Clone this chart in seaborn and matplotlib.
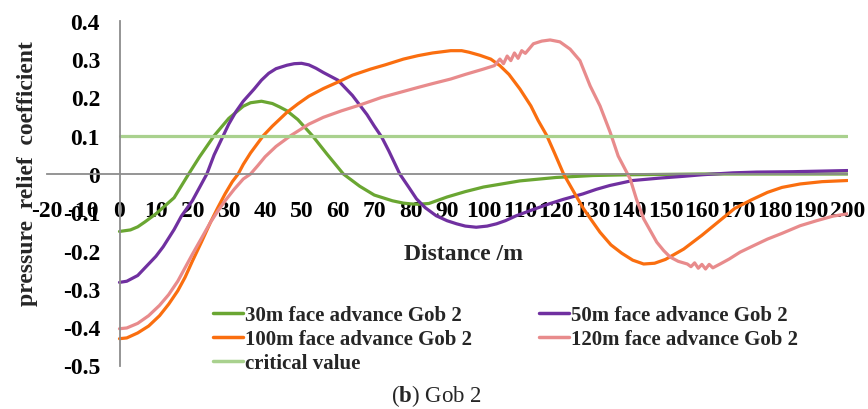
import matplotlib
matplotlib.use("Agg")
import matplotlib.pyplot as plt
import seaborn as sns
import numpy as np
import pandas as pd
from matplotlib.lines import Line2D

# ---------------- data ----------------
x_30 = [0, 3, 5, 7, 10, 15, 19, 22, 26, 30, 34, 36, 39, 42, 44, 46, 49, 53, 57, 61.5, 66,
        70, 75, 78, 80, 82, 85, 90, 95, 100, 110, 120, 130, 140, 160, 180, 200]
y_30 = [-0.150, -0.146, -0.138, -0.125, -0.104, -0.062, 0.0, 0.045, 0.100, 0.145, 0.177,
        0.186, 0.190, 0.184, 0.175, 0.165, 0.142, 0.100, 0.052, 0.0, -0.032,
        -0.055, -0.070, -0.076, -0.078, -0.079, -0.077, -0.060, -0.046, -0.034, -0.018,
        -0.009, -0.004, -0.002, 0.0, 0.0, 0.0]

x_50 = [0, 2, 5, 7, 10, 12, 15, 17, 20, 24, 26, 28.5, 30, 32, 34, 37, 39, 41, 43, 46, 48,
        50, 52, 54, 56, 58, 60, 62, 64, 66, 68, 70, 72, 74, 77, 79.5, 81.6, 84, 87, 90,
        92.6, 95, 98, 101, 103.6, 106, 109, 113, 118, 122, 127.3, 131, 134.7, 141, 148,
        155, 160, 168.5, 175, 185, 200]
y_50 = [-0.283, -0.280, -0.265, -0.245, -0.215, -0.190, -0.145, -0.110, -0.070, 0.0,
        0.050, 0.100, 0.130, 0.163, 0.190, 0.222, 0.245, 0.263, 0.275, 0.284, 0.288,
        0.289, 0.285, 0.276, 0.265, 0.255, 0.245, 0.225, 0.205, 0.180, 0.155, 0.125,
        0.097, 0.060, 0.0, -0.035, -0.065, -0.088, -0.109, -0.122,
        -0.130, -0.136, -0.139, -0.136, -0.130, -0.122, -0.109, -0.095, -0.078, -0.066,
        -0.052, -0.040, -0.030, -0.017, -0.011,
        -0.006, -0.002, 0.003, 0.005, 0.006, 0.009]

x_100 = [0, 2, 5, 8, 11, 13.5, 16, 18, 20, 22.5, 25, 27, 29, 31, 32.6, 34, 36, 39.5, 42,
         46, 49, 52, 56, 60, 64, 69, 73, 78, 82, 86, 91, 94, 96, 99, 102, 104.5, 107, 110,
         113, 115, 117.4, 119.5, 122, 125, 127.5, 130, 132, 135, 138, 141, 144, 147, 150,
         155, 160, 164.5, 169, 173.5, 178, 182, 187, 193, 200]
y_100 = [-0.430, -0.428, -0.415, -0.397, -0.370, -0.340, -0.305, -0.270, -0.228, -0.178,
         -0.126, -0.088, -0.052, -0.020, 0.0, 0.025, 0.055, 0.100, 0.125,
         0.161, 0.183, 0.203, 0.223, 0.240, 0.258, 0.274, 0.285, 0.300, 0.309, 0.316,
         0.322, 0.322, 0.318, 0.310, 0.300, 0.283, 0.260, 0.222,
         0.178, 0.140, 0.100, 0.055, 0.0, -0.050, -0.091, -0.125, -0.152, -0.185, -0.207,
         -0.225, -0.235, -0.233, -0.223,
         -0.196, -0.160, -0.125, -0.090, -0.068, -0.048, -0.035, -0.026, -0.020, -0.017]

x_120 = [0, 2, 5, 8, 11, 13.5, 16, 18, 20, 22.5, 25, 27, 29, 31.5, 34, 36, 38, 40, 43, 47,
         52, 56, 61, 66, 72, 77, 82, 86, 91, 95, 100, 103,
         104.5, 105.5, 106.5, 107.5, 108.5, 109.5, 110.5, 111.5, 113.7, 116, 118.3, 121,
         123.8, 126.5, 129.3, 132, 134.8, 137, 140.3, 142, 144, 147.6, 149.5, 151.3,
         153.5, 156, 157, 158, 159, 160, 161, 162, 163, 165, 167.5, 170.5, 174, 178, 182,
         187, 191.5, 196, 200]
y_120 = [-0.404, -0.402, -0.390, -0.370, -0.343, -0.315, -0.280, -0.245, -0.210, -0.168,
         -0.126, -0.097, -0.070, -0.040, -0.013, 0.0, 0.022, 0.045, 0.072,
         0.100, 0.130, 0.148, 0.165, 0.180, 0.200, 0.213, 0.226, 0.236, 0.248, 0.260,
         0.274, 0.283,
         0.300, 0.288, 0.308, 0.296, 0.316, 0.302, 0.322, 0.315, 0.340, 0.347, 0.350,
         0.345, 0.326, 0.296, 0.230, 0.178, 0.109, 0.047, -0.013, -0.065, -0.117, -0.178,
         -0.200, -0.217, -0.228, -0.235, -0.242, -0.232, -0.246, -0.236, -0.248, -0.236,
         -0.245, -0.235, -0.222, -0.204, -0.188, -0.170, -0.155, -0.135, -0.122, -0.110,
         -0.104]

x_crit = [0, 200]
y_crit = [0.1, 0.1]

labels = ["30m face advance Gob 2", "50m face advance Gob 2",
          "100m face advance Gob 2", "120m face advance Gob 2", "critical value"]
colors = ["#6aa632", "#7030a0", "#fa6e0f", "#e88b8c", "#a9d18e"]

x_ticks = list(range(-20, 201, 10))
y_ticks = [0.4, 0.3, 0.2, 0.1, 0.0, -0.1, -0.2, -0.3, -0.4, -0.5]
y_tick_labels = ["0.4", "0.3", "0.2", "0.1", "0", "-0.1", "-0.2", "-0.3", "-0.4", "-0.5"]

# ---------------- figure ----------------
sns.set_theme(style="white")
plt.rcParams["font.family"] = ["Liberation Serif", "DejaVu Serif"]
plt.rcParams["mathtext.fontset"] = "custom"
plt.rcParams["mathtext.rm"] = "Liberation Serif"
plt.rcParams["mathtext.bf"] = "Liberation Serif:bold"

fig = plt.figure(figsize=(8.68, 4.10), dpi=100)
L, R = 46.7 / 868, 847.5 / 868
T, B = 1 - 21.8 / 410, 1 - 366.5 / 410
ax = fig.add_axes([L, B, R - L, T - B])

series = [(x_30, y_30), (x_50, y_50), (x_100, y_100), (x_120, y_120), (x_crit, y_crit)]
frames = []
for (xs, ys), lab in zip(series, labels):
    frames.append(pd.DataFrame({"Distance": xs, "value": ys, "series": lab}))
df = pd.concat(frames, ignore_index=True)

for lab, col in zip(labels, colors):
    sub = df[df["series"] == lab]
    sns.lineplot(data=sub, x="Distance", y="value", color=col, linewidth=2.3,
                 ax=ax, legend=False, estimator=None, sort=True)

ax.set_xlim(-20, 200)
ax.set_ylim(-0.5, 0.4)
ax.set_xticks(x_ticks)
ax.set_xticklabels([str(t) for t in x_ticks])
ax.set_yticks(y_ticks)
ax.set_yticklabels(y_tick_labels)
ax.set_xlabel("")
ax.set_ylabel("")

for s in ["top", "right"]:
    ax.spines[s].set_visible(False)
ax.spines["left"].set_position(("data", 0))
ax.spines["bottom"].set_position(("data", 0))
for s in ["left", "bottom"]:
    ax.spines[s].set_color("#8c8c8c")
    ax.spines[s].set_linewidth(1.3)

ax.tick_params(axis="x", direction="out", length=3.5, width=1.2, color="#8c8c8c",
               pad=15, labelsize=17)
ax.tick_params(axis="y", direction="out", length=5, width=1.2, color="#8c8c8c",
               pad=9, labelsize=17)
for lbl in ax.get_xticklabels() + ax.get_yticklabels():
    lbl.set_fontweight("bold")
    lbl.set_color("black")
ax.grid(False)

fig.text(28 / 868, 1 - 174 / 410, "pressure  relief  coefficient", rotation=90,
         ha="center", va="center", fontsize=17, fontweight="bold")
fig.text(463 / 868, 1 - 255 / 410, "Distance /m", ha="center", va="center",
         fontsize=17, fontweight="bold")
fig.text(436 / 868, 1 - 396 / 410, r"($\mathbf{b}$) Gob 2", ha="center", va="center",
         fontsize=16.5)

order = [0, 2, 4, 1, 3]
handles = [Line2D([], [], color=colors[i], linewidth=2.5) for i in order]
leg = ax.legend(handles, [labels[i] for i in order], ncol=2, frameon=False,
                loc="upper left", bbox_to_anchor=(213 / 868, 1 - 306 / 410),
                bbox_transform=fig.transFigure, borderpad=0, borderaxespad=0,
                handlelength=1.45, handletextpad=0.1, columnspacing=3.2,
                labelspacing=0.2, prop={"family": "Liberation Serif",
                                        "weight": "bold", "size": 15})

fig.savefig("out.png", dpi=100)
